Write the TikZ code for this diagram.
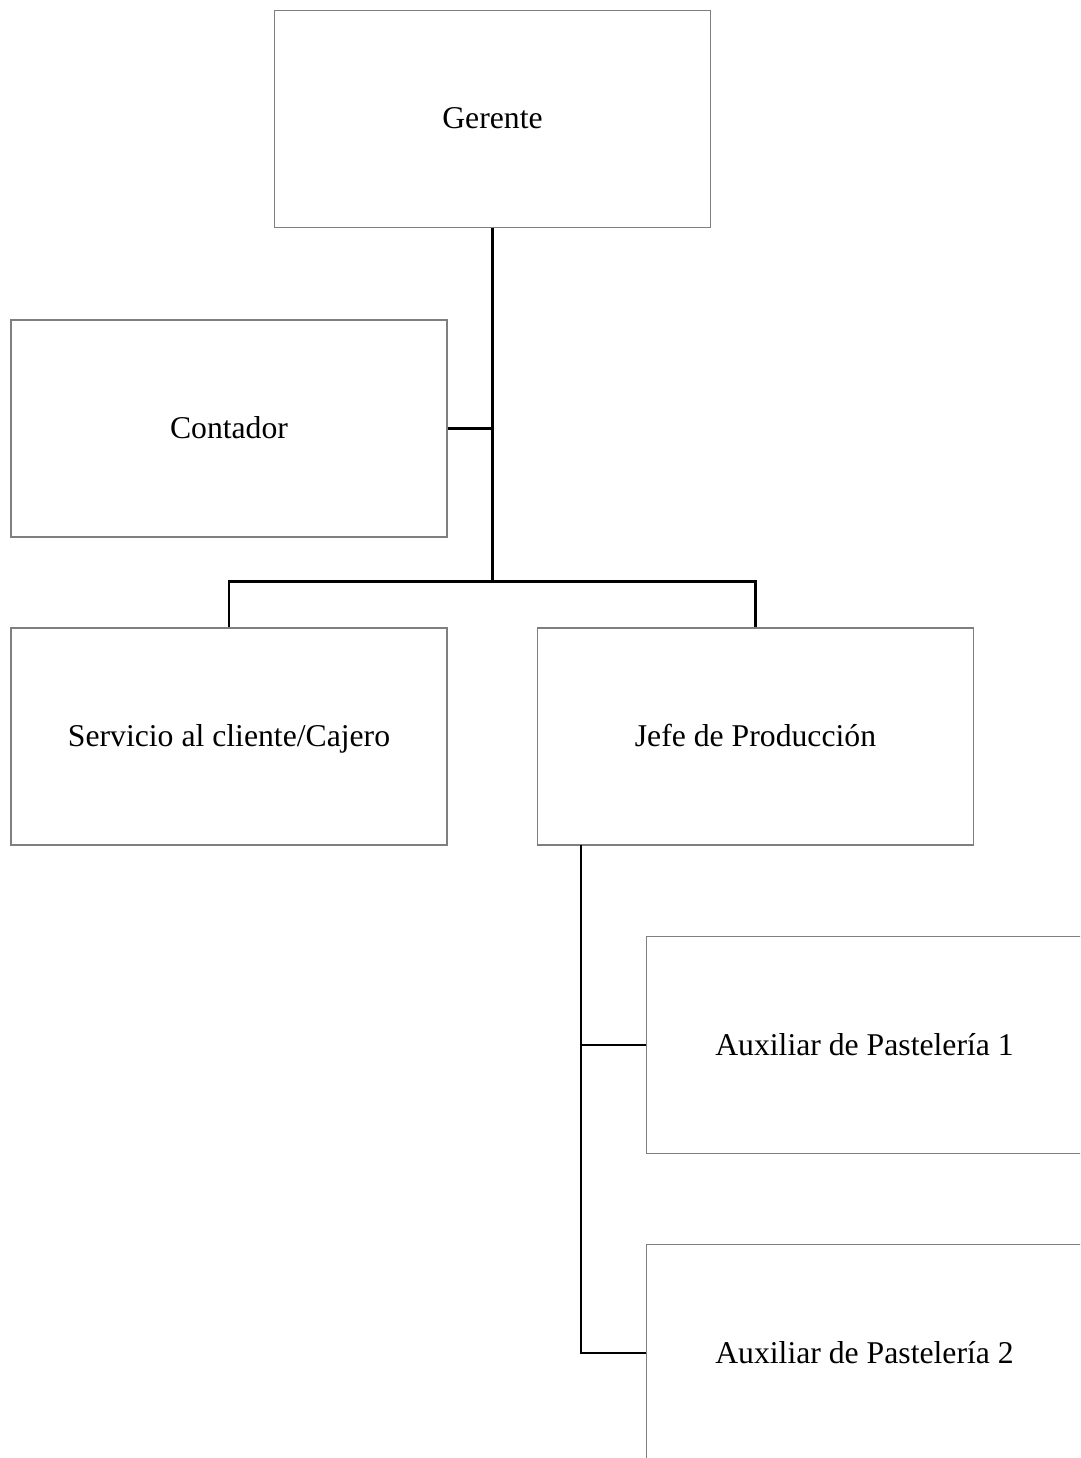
\documentclass[tikz,border=0pt]{standalone}
\usepackage{fontspec}
\setmainfont{Liberation Serif}
\definecolor{boxgray}{HTML}{7F7F7F}
\begin{document}
\begin{tikzpicture}[x=1pt,y=-1pt,
  role/.style={draw=boxgray, line width=1.3pt, minimum width=436pt, minimum height=217pt,
    inner sep=0pt, text height=27pt, text depth=7pt, font=\fontsize{31.7}{38}\selectfont},
  link/.style={draw=black, line width=2.4pt}]
\useasboundingbox (0,0) rectangle (1080,1458);
\clip (0,0) rectangle (1080,1458);

% positions
\node[role] (ger)  at (492.5,119)   {Gerente};
\node[role] (cont) at (229,428.5)   {Contador};
\node[role] (serv) at (229,736.5)   {Servicio al cliente/Cajero};
\node[role] (jefe) at (755.5,736.5) {Jefe de Producción};
\node[role] (aux1) at (864.5,1045)  {Auxiliar de Pastelería 1};
\node[role] (aux2) at (864.5,1353)  {Auxiliar de Pastelería 2};

\coordinate (bus)  at (492.5,581.5);
\coordinate (jtap) at (581,845);

% Gerente to the staff line
\draw[link] (ger.south) -- (bus);
\draw[link] (cont.east) -- (ger.south |- cont.east);
\draw[link] (serv.north) -- (serv.north |- bus) -- (jefe.north |- bus) -- (jefe.north);

% production line
\draw[link] (jtap) -- (jtap |- aux2.west) -- (aux2.west);
\draw[link] (jtap |- aux1.west) -- (aux1.west);
\end{tikzpicture}
\end{document}
